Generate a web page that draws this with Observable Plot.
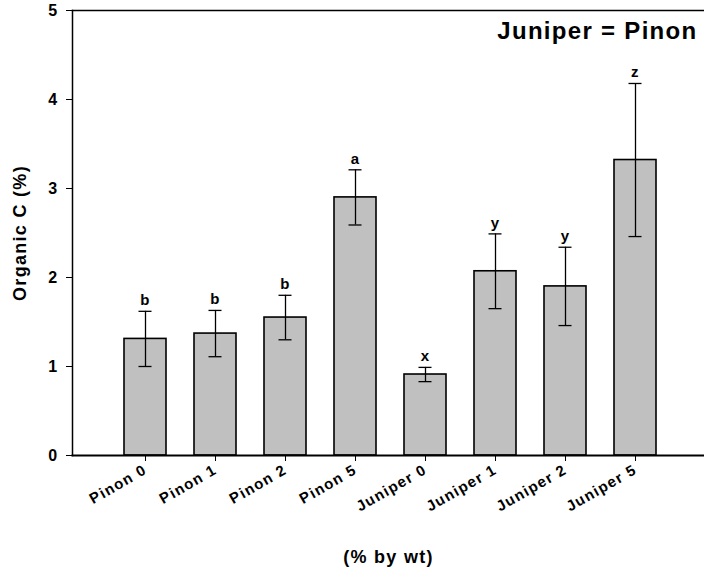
<!DOCTYPE html>
<html>
<head>
<meta charset="utf-8">
<script src="https://cdn.jsdelivr.net/npm/d3@7"></script>
<script src="https://cdn.jsdelivr.net/npm/@observablehq/plot@0.6"></script>
<style>
  body { margin: 0; background: #fff; }
  svg { font-family: "Liberation Sans", Arial, sans-serif; font-weight: bold; }
  svg text { letter-spacing: 1.3px; }
  svg text.title-note { letter-spacing: 1.7px; }
</style>
</head>
<body>
<div id="chart"></div>
<script>
// Organic carbon by amendment treatment (mean ± error)
const treatments = ["Pinon 0", "Pinon 1", "Pinon 2", "Pinon 5", "Juniper 0", "Juniper 1", "Juniper 2", "Juniper 5"];
const organicC   = [1.31, 1.37, 1.55, 2.90, 0.91, 2.07, 1.90, 3.32];
const errors     = [0.31, 0.26, 0.25, 0.31, 0.08, 0.42, 0.44, 0.86];
const groups     = ["b", "b", "b", "a", "x", "y", "y", "z"];
const yTicks     = [0, 1, 2, 3, 4, 5];

const rows = treatments.map((t, i) => ({
  treatment: t,
  value: organicC[i],
  lo: organicC[i] - errors[i],
  hi: organicC[i] + errors[i],
  group: groups[i]
}));

const plot = Plot.plot({
  width: 704,
  height: 573,
  marginLeft: 72,
  marginRight: 0,
  marginTop: 10,
  marginBottom: 118,
  style: { fontFamily: "Liberation Sans, Arial, sans-serif", fontWeight: "bold", color: "#000" },
  x: { domain: treatments, range: [107.75, 671.75], paddingInner: 0.4, paddingOuter: 0.2, label: null },
  y: { domain: [0, 5], label: null },
  marks: [
    Plot.barY(rows, { x: "treatment", y: "value", fill: "#c0c0c0", stroke: "#000", strokeWidth: 1.6 }),
    Plot.ruleX(rows, { x: "treatment", y1: "lo", y2: "hi", stroke: "#000", strokeWidth: 1.3 }),
    Plot.tickY(rows, { x: "treatment", y: "hi", stroke: "#000", strokeWidth: 1.3, insetLeft: 14.5, insetRight: 14.5 }),
    Plot.tickY(rows, { x: "treatment", y: "lo", stroke: "#000", strokeWidth: 1.3, insetLeft: 14.5, insetRight: 14.5 }),
    Plot.text(rows, { x: "treatment", y: "hi", text: "group", dy: -11, fontSize: 15, fontWeight: "bold", fill: "#000" }),
    Plot.axisY({ ticks: yTicks, tickSize: 6, tickPadding: 8, fontSize: 16, fontWeight: "bold", stroke: "#000", tickFormat: d3.format("d") }),
    Plot.axisX({ tickSize: 6, tickPadding: 7, tickRotate: -30, fontSize: 15, fontWeight: "bold", stroke: "#000", label: null }),
    Plot.frame({ anchor: "left", stroke: "#000", strokeWidth: 1.5 }),
    Plot.frame({ anchor: "top", stroke: "#000", strokeWidth: 1.5 }),
    Plot.frame({ anchor: "bottom", stroke: "#000", strokeWidth: 2 }),
    Plot.text(["Organic C (%)"], { frameAnchor: "left", textAnchor: "middle", dx: -52, rotate: -90, fontSize: 18, fontWeight: "bold", fill: "#000" }),
    Plot.text(["(% by wt)"], { frameAnchor: "bottom", textAnchor: "middle", lineAnchor: "middle", dy: 102, fontSize: 18, fontWeight: "bold", fill: "#000" }),
    Plot.text(["Juniper = Pinon"], { frameAnchor: "top-right", textAnchor: "end", dx: -7, dy: 11, fontSize: 24, fontWeight: "bold", fill: "#000", className: "title-note" })
  ]
});

document.getElementById("chart").appendChild(plot);
</script>
</body>
</html>
